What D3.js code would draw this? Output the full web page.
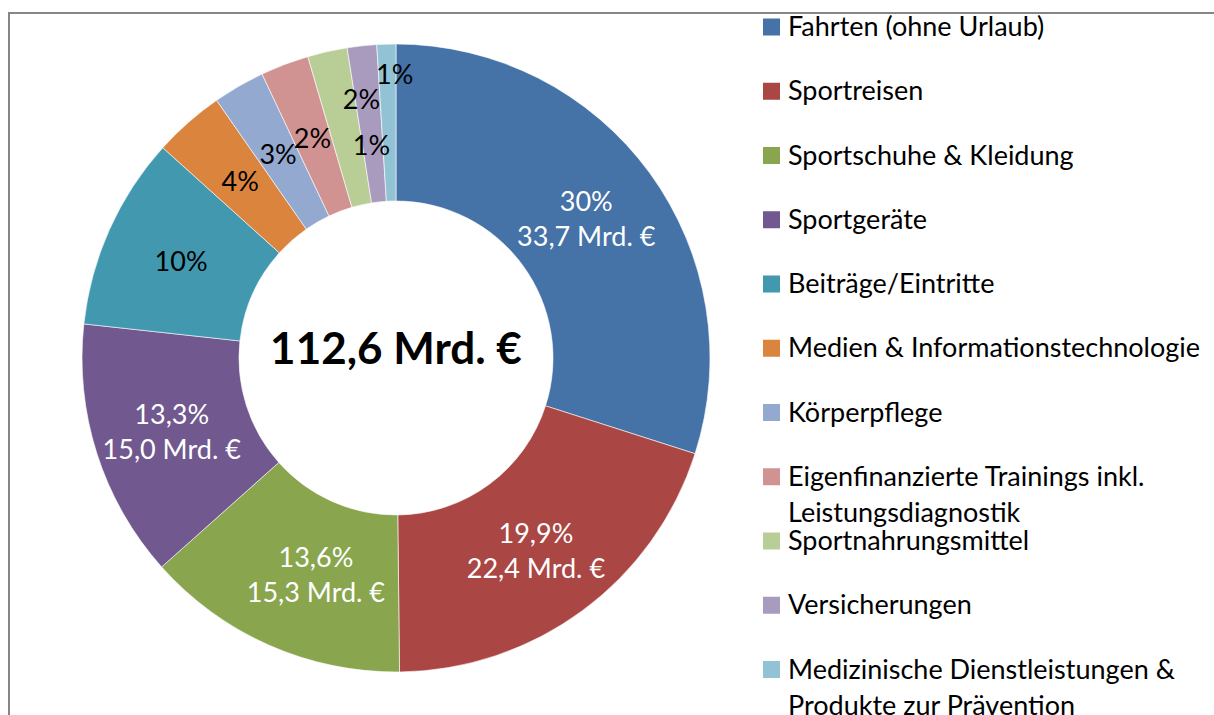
<!DOCTYPE html>
<html>
<head>
<meta charset="utf-8">
<script src="https://cdn.jsdelivr.net/npm/d3@7"></script>
<style>
  html, body { margin: 0; padding: 0; background: #fff; }
  svg { display: block; font-family: Lato, "Open Sans", sans-serif; }
</style>
</head>
<body>
<svg id="chart" width="1214" height="715"></svg>
<script>
// Sportkonsum nach Kategorien (Mrd. €)
const categories = [
  "Fahrten (ohne Urlaub)",
  "Sportreisen",
  "Sportschuhe & Kleidung",
  "Sportgeräte",
  "Beiträge/Eintritte",
  "Medien & Informationstechnologie",
  "Körperpflege",
  "Eigenfinanzierte Trainings inkl. Leistungsdiagnostik",
  "Sportnahrungsmittel",
  "Versicherungen",
  "Medizinische Dienstleistungen & Produkte zur Prävention"
];
const values = [33.7, 22.4, 15.3, 15.0, 11.2, 4.1, 3.0, 2.8, 2.3, 1.7, 1.1];
const pctLabels = ["30%", "19,9%", "13,6%", "13,3%", "10%", "4%", "3%", "2%", "2%", "1%", "1%"];
const amountLabels = ["33,7 Mrd. €", "22,4 Mrd. €", "15,3 Mrd. €", "15,0 Mrd. €", null, null, null, null, null, null, null];
const legendLines = [
  ["Fahrten (ohne Urlaub)"],
  ["Sportreisen"],
  ["Sportschuhe & Kleidung"],
  ["Sportgeräte"],
  ["Beiträge/Eintritte"],
  ["Medien & Informationstechnologie"],
  ["Körperpflege"],
  ["Eigenfinanzierte Trainings inkl.", "Leistungsdiagnostik"],
  ["Sportnahrungsmittel"],
  ["Versicherungen"],
  ["Medizinische Dienstleistungen &", "Produkte zur Prävention"]
];
const colors = ["#4572A7", "#AA4643", "#89A54E", "#71588F", "#4198AF", "#DB843D",
                "#93A9CF", "#D19392", "#B9CD96", "#A99BBD", "#92C3D5"];
const totalLabel = "112,6 Mrd. €";

const svg = d3.select("#chart");

// frame (only left and top edges visible)
svg.append("path")
  .attr("d", "M9,715 V13 H1214")
  .attr("fill", "none")
  .attr("stroke", "#868686")
  .attr("stroke-width", 2);

const cx = 396, cy = 358;
const rOuter = 314, rInner = 157;
const rLabel = (rOuter + rInner) / 2;

// manual label nudges (as placed in the original)
const nudge = { 1: [0, 3], 2: [15, 1], 3: [0, 2], 8: [17, -29], 9: [1, 21], 10: [6, -48] };

const pie = d3.pie().sort(null).value(d => d)(values);
const arc = d3.arc().innerRadius(rInner).outerRadius(rOuter);
const labelArc = d3.arc().innerRadius(rLabel).outerRadius(rLabel);

const g = svg.append("g").attr("transform", `translate(${cx},${cy})`);

g.selectAll("path.slice")
  .data(pie)
  .join("path")
  .attr("class", "slice")
  .attr("d", arc)
  .attr("fill", (d, i) => colors[i])
  .attr("stroke", "#fff")
  .attr("stroke-width", 0.6);

const labels = g.selectAll("g.lbl")
  .data(pie)
  .join("g")
  .attr("class", "lbl")
  .attr("transform", (d, i) => {
    const [x, y] = labelArc.centroid(d);
    const n = nudge[i] || [0, 0];
    return `translate(${x + n[0]},${y + n[1]})`;
  });

labels.each(function (d, i) {
  const el = d3.select(this);
  const two = amountLabels[i] != null;
  const fill = two ? "#fff" : "#000";
  el.append("text")
    .attr("text-anchor", "middle")
    .attr("y", two ? -17.5 : 0)
    .attr("dy", "0.36em")
    .attr("font-size", 27)
    .attr("fill", fill)
    .text(pctLabels[i]);
  if (two) {
    el.append("text")
      .attr("text-anchor", "middle")
      .attr("y", 17.5)
      .attr("dy", "0.36em")
      .attr("font-size", 27)
      .attr("fill", fill)
      .text(amountLabels[i]);
  }
});

// total in the centre
g.append("text")
  .attr("text-anchor", "middle")
  .attr("y", -10)
  .attr("dy", "0.36em")
  .attr("font-size", 44)
  .attr("font-weight", "bold")
  .attr("fill", "#000")
  .text(totalLabel);

// legend
const legendY = d3.scaleLinear().domain([0, categories.length - 1]).range([27, 669.5]);
const legend = svg.append("g")
  .selectAll("g")
  .data(categories)
  .join("g")
  .attr("transform", (d, i) => `translate(763,${legendY(i)})`);

legend.append("rect")
  .attr("x", 0)
  .attr("y", -8.5)
  .attr("width", 17)
  .attr("height", 17)
  .attr("fill", (d, i) => colors[i]);

legend.each(function (d, i) {
  const t = d3.select(this).append("text")
    .attr("x", 25)
    .attr("font-size", 27)
    .attr("fill", "#000");
  legendLines[i].forEach((line, k) => {
    t.append("tspan")
      .attr("x", 25)
      .attr("y", k * 36)
      .attr("dy", "0.34em")
      .text(line);
  });
});
</script>
</body>
</html>
